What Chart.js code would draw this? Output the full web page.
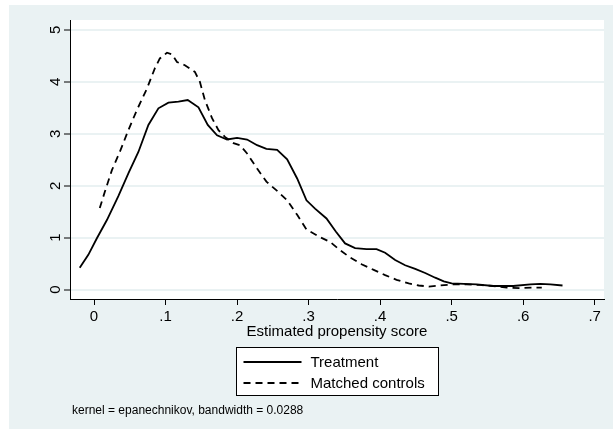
<!DOCTYPE html>
<html>
<head>
<meta charset="utf-8">
<script src="https://cdn.jsdelivr.net/npm/chart.js@4"></script>
<style>
  html, body { margin: 0; padding: 0; background: #fff; }
  canvas { display: block; }
</style>
</head>
<body>
<canvas id="kdens" width="614" height="430"></canvas>
<script>
// kernel density of the estimated propensity score
const treatX = [-0.020, -0.008, 0.004, 0.018, 0.034, 0.048, 0.062, 0.076, 0.090, 0.104,
  0.118, 0.131, 0.146, 0.159, 0.172, 0.186, 0.200, 0.214, 0.228, 0.241,
  0.256, 0.270, 0.284, 0.297, 0.309, 0.325, 0.338, 0.351, 0.365, 0.381,
  0.395, 0.407, 0.421, 0.435, 0.449, 0.463, 0.477, 0.489, 0.500, 0.517,
  0.535, 0.558, 0.586, 0.610, 0.624, 0.638, 0.655];
const treatY = [0.42, 0.67, 0.99, 1.34, 1.80, 2.24, 2.65, 3.17, 3.49, 3.60,
  3.62, 3.65, 3.51, 3.17, 2.97, 2.89, 2.92, 2.89, 2.78, 2.71,
  2.69, 2.51, 2.14, 1.72, 1.56, 1.37, 1.12, 0.89, 0.80, 0.78,
  0.78, 0.71, 0.57, 0.47, 0.40, 0.32, 0.23, 0.16, 0.12, 0.11,
  0.10, 0.07, 0.07, 0.10, 0.11, 0.10, 0.08];

const ctrlX = [0.008, 0.015, 0.025, 0.036, 0.048, 0.060, 0.074, 0.085, 0.092, 0.102,
  0.109, 0.116, 0.127, 0.141, 0.148, 0.155, 0.165, 0.174, 0.183, 0.195,
  0.204, 0.214, 0.228, 0.241, 0.256, 0.270, 0.284, 0.297, 0.316, 0.330,
  0.344, 0.358, 0.374, 0.391, 0.407, 0.423, 0.440, 0.454, 0.468, 0.484,
  0.500, 0.521, 0.540, 0.558, 0.577, 0.596, 0.614, 0.626];
const ctrlY = [1.57, 1.88, 2.30, 2.65, 3.07, 3.46, 3.87, 4.26, 4.45, 4.56,
  4.53, 4.38, 4.32, 4.19, 4.00, 3.65, 3.30, 3.07, 2.94, 2.82,
  2.78, 2.62, 2.33, 2.08, 1.90, 1.72, 1.44, 1.16, 1.01, 0.92,
  0.76, 0.62, 0.49, 0.38, 0.28, 0.19, 0.12, 0.08, 0.06, 0.08,
  0.10, 0.10, 0.09, 0.07, 0.04, 0.03, 0.04, 0.04];

const xTicks = [0, 0.1, 0.2, 0.3, 0.4, 0.5, 0.6, 0.7];
const yTicks = [0, 1, 2, 3, 4, 5];

const seriesNames = ['Treatment', 'Matched controls'];
const xTitle = 'Estimated propensity score';
const note = 'kernel = epanechnikov, bandwidth = 0.0288';

const FONT = "'Liberation Sans', Arial, sans-serif";
const BG = '#eaf2f3';

const pts = (xs, ys) => xs.map((x, i) => ({ x: x, y: ys[i] }));

// stata-ish frame, axis title, boxed legend and note
const stataDecor = {
  id: 'stataDecor',
  beforeDraw(chart) {
    const c = chart.ctx, a = chart.chartArea;
    c.save();
    c.fillStyle = '#fff';
    c.fillRect(0, 0, chart.width, chart.height);
    c.fillStyle = BG;
    c.fillRect(9, 5, 604, 424);
    c.fillStyle = '#fff';
    c.fillRect(a.left, a.top, a.right - a.left, a.bottom - a.top);
    c.restore();
  },
  afterDraw(chart) {
    const c = chart.ctx, a = chart.chartArea;
    const mid = (a.left + a.right) / 2;
    c.save();
    c.fillStyle = '#000';
    c.font = '15px ' + FONT;
    c.textAlign = 'center';
    c.textBaseline = 'alphabetic';
    c.fillText(xTitle, mid, 336);

    // legend box
    const bw = 202, bh = 48;
    const bx = Math.round(mid - bw / 2) + 0.5, by = 347.5;
    c.fillStyle = '#fff';
    c.fillRect(bx, by, bw, bh);
    c.strokeStyle = '#000';
    c.lineWidth = 1;
    c.strokeRect(bx, by, bw, bh);
    chart.data.datasets.forEach((ds, i) => {
      const y = 362 + i * 21;
      c.beginPath();
      c.setLineDash(ds.borderDash || []);
      c.lineWidth = ds.borderWidth;
      c.strokeStyle = ds.borderColor;
      c.moveTo(bx + 7, y);
      c.lineTo(bx + 65, y);
      c.stroke();
      c.setLineDash([]);
      c.fillStyle = '#000';
      c.font = '15px ' + FONT;
      c.textAlign = 'left';
      c.textBaseline = 'middle';
      c.fillText(ds.label, bx + 74, y + 0.5);
    });

    c.font = '12px ' + FONT;
    c.textAlign = 'left';
    c.textBaseline = 'alphabetic';
    c.fillText(note, 72, 414);
    c.restore();
  }
};

new Chart(document.getElementById('kdens'), {
  type: 'line',
  data: {
    datasets: [
      {
        label: seriesNames[0],
        data: pts(treatX, treatY),
        borderColor: '#000',
        borderWidth: 1.8,
        pointRadius: 0,
        tension: 0,
        fill: false
      },
      {
        label: seriesNames[1],
        data: pts(ctrlX, ctrlY),
        borderColor: '#000',
        borderWidth: 1.8,
        borderDash: [7, 5],
        pointRadius: 0,
        tension: 0,
        fill: false
      }
    ]
  },
  options: {
    responsive: false,
    animation: false,
    events: [],
    layout: { padding: { left: 0, right: 10, top: 20, bottom: 91 } },
    plugins: {
      legend: { display: false },
      tooltip: { enabled: false }
    },
    scales: {
      x: {
        type: 'linear',
        min: -0.0336,
        max: 0.713,
        afterBuildTicks: s => { s.ticks = xTicks.map(v => ({ value: v })); },
        afterFit: s => { s.height = 40; },
        grid: {
          drawOnChartArea: false,
          drawTicks: true,
          tickLength: 6,
          tickColor: '#000',
          tickWidth: 1
        },
        border: { color: '#000', width: 1 },
        ticks: {
          color: '#000',
          font: { family: FONT, size: 15 },
          padding: 3,
          maxRotation: 0,
          callback: v => v === 0 ? '0' : '.' + Math.round(v * 10)
        }
      },
      y: {
        min: -0.18,
        max: 5.19,
        afterBuildTicks: s => { s.ticks = yTicks.map(v => ({ value: v })); },
        afterFit: s => { s.width = 70; },
        grid: {
          color: BG,
          lineWidth: 2,
          drawTicks: true,
          tickLength: 6,
          tickColor: '#000',
          tickWidth: 1
        },
        border: { color: '#000', width: 1 },
        ticks: {
          color: '#000',
          font: { family: FONT, size: 15 },
          padding: 4,
          minRotation: 90,
          maxRotation: 90,
          crossAlign: 'center'
        }
      }
    }
  },
  plugins: [stataDecor]
});
</script>
</body>
</html>
